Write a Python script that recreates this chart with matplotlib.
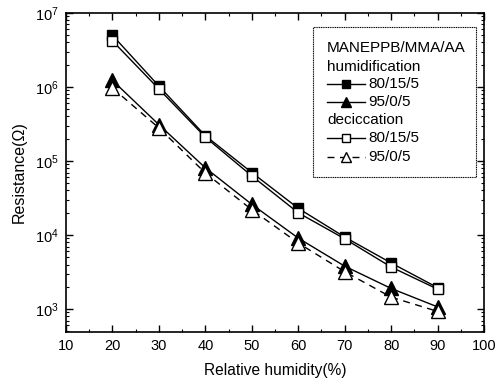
import matplotlib
matplotlib.use("Agg")
import matplotlib.pyplot as plt
from matplotlib.lines import Line2D
from matplotlib.patches import Rectangle
from matplotlib.ticker import MultipleLocator, LogLocator, NullFormatter

plt.rcParams['font.family'] = ['Liberation Sans', 'DejaVu Sans']
plt.rcParams['mathtext.fontset'] = 'custom'
plt.rcParams['mathtext.rm'] = 'Liberation Sans'
plt.rcParams['mathtext.it'] = 'Liberation Sans'

humidity = [20, 30, 40, 50, 60, 70, 80, 90]
hum_80_15_5 = [5.0e6, 1.03e6, 2.2e5, 7.0e4, 2.3e4, 9.4e3, 4.2e3, 1.95e3]
hum_95_0_5 = [1.23e6, 3.1e5, 8.1e4, 2.6e4, 9.1e3, 3.8e3, 1.9e3, 1.07e3]
des_80_15_5 = [4.2e6, 9.4e5, 2.1e5, 6.3e4, 2.0e4, 8.9e3, 3.7e3, 1.86e3]
des_95_0_5 = [9.7e5, 2.8e5, 6.9e4, 2.2e4, 7.8e3, 3.2e3, 1.45e3, 0.93e3]
legend_title = "MANEPPB/MMA/AA"
group_labels = ["humidification", "deciccation"]
series_labels = ["80/15/5", "95/0/5"]

W, H = 496, 384
fig = plt.figure(figsize=(W / 100, H / 100), dpi=100)
ax = fig.add_axes([66 / W, 1 - 332 / H, (484 - 66) / W, (332 - 13) / H])

styles = [
    (hum_80_15_5, dict(color='black', ls='-', marker='s', mfc='black', mec='black', ms=7, lw=1.0)),
    (hum_95_0_5, dict(color='black', ls='-', marker='^', mfc='black', mec='black', ms=10, lw=1.0)),
    (des_80_15_5, dict(color='black', ls='-', marker='s', mfc='white', mec='black', ms=7, lw=1.0)),
    (des_95_0_5, dict(color='black', ls=(0, (5, 4)), marker='^', mfc='white', mec='black', ms=10, lw=1.0)),
]
for vals, st in styles:
    ax.plot(humidity, vals, **st)

ax.set_yscale('log')
ax.set_xlim(10, 100)
ax.set_ylim(490, 1e7)
ax.xaxis.set_major_locator(MultipleLocator(10))
ax.xaxis.set_minor_locator(MultipleLocator(5))
ax.yaxis.set_major_locator(LogLocator(base=10, numticks=10))
ax.yaxis.set_minor_locator(LogLocator(base=10, subs=range(2, 10), numticks=50))
ax.yaxis.set_minor_formatter(NullFormatter())
ax.tick_params(which='both', direction='in', top=True, right=True, labelsize=10.5, pad=5)
ax.tick_params(which='major', length=5, width=1)
ax.tick_params(which='minor', length=2.5, width=0.8)
for sp in ax.spines.values():
    sp.set_linewidth(1.2)
ax.set_xlabel("Relative humidity(%)", fontsize=11.2, labelpad=7)
ax.set_ylabel("Resistance(Ω)", fontsize=11.5, labelpad=6)

# custom legend (figure pixel coordinates)
def fx(px):
    return px / W

def fy(py):
    return 1 - py / H

fig.add_artist(Rectangle((fx(313), fy(177)), fx(476) - fx(313), fy(27) - fy(177),
                         transform=fig.transFigure, fill=False, ec='black', lw=0.8, ls=(0, (1, 0.6))))
fs = 11
fig.text(fx(327), fy(48), legend_title, fontsize=fs, va='center', ha='left')
rows = [(67, group_labels[0], None), (84, series_labels[0], styles[0][1]),
        (102, series_labels[1], styles[1][1]), (120, group_labels[1], None),
        (138, series_labels[0], styles[2][1]), (157, series_labels[1], styles[3][1])]
for py, label, st in rows:
    if st is None:
        fig.text(fx(327), fy(py), label, fontsize=fs, va='center', ha='left')
    else:
        fig.add_artist(Line2D([fx(327), fx(365)], [fy(py), fy(py)], transform=fig.transFigure,
                              color='black', lw=1.0, ls=st['ls']))
        fig.add_artist(Line2D([fx(346)], [fy(py)], transform=fig.transFigure, ls='None',
                              marker=st['marker'], mfc=st['mfc'], mec=st['mec'], ms=st['ms'] * 0.75))
        fig.text(fx(368), fy(py), label, fontsize=fs, va='center', ha='left')

fig.savefig("out.png", dpi=100)
